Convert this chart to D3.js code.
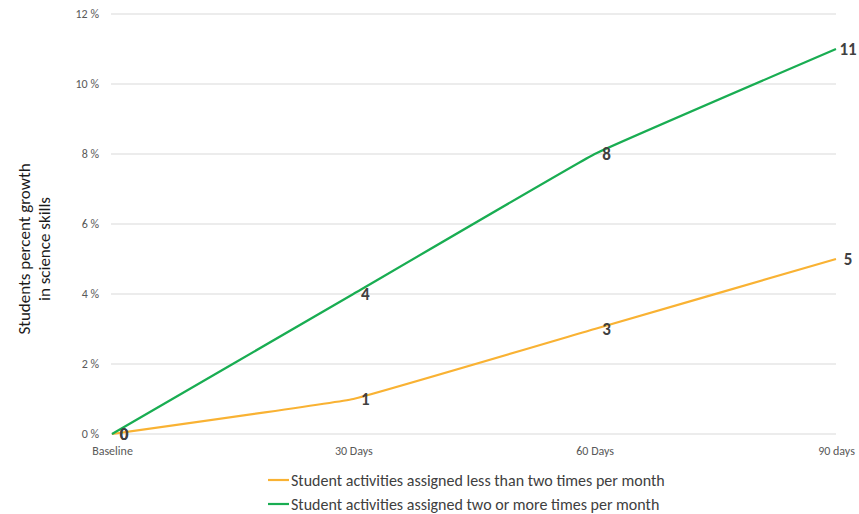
<!DOCTYPE html>
<html>
<head>
<meta charset="utf-8">
<script src="https://cdn.jsdelivr.net/npm/d3@7"></script>
<style>
  html, body { margin: 0; padding: 0; background: #fff; }
  svg { display: block; font-family: Carlito, Lato, "Open Sans", sans-serif; }
</style>
</head>
<body>
<svg id="chart" width="859" height="514"></svg>
<script>
// Time points along the x axis
const periods = ["Baseline", "30 Days", "60 Days", "90 days"];
// Growth (%) for each group of students
const lessOften = [0, 1, 3, 5];
const moreOften = [0, 4, 8, 11];
// Y axis ticks (%)
const yTicks = [0, 2, 4, 6, 8, 10, 12];

const seriesNames = [
  "Student activities assigned less than two times per month",
  "Student activities assigned two or more times per month"
];
const seriesColors = ["#F9B233", "#19AD52"];
const seriesValues = [lessOften, moreOften];

const svg = d3.select("#chart");
const plotLeft = 112, plotRight = 836, plotTop = 14, plotBottom = 434;

const x = d3.scalePoint().domain(periods).range([plotLeft, plotRight]);
const y = d3.scaleLinear().domain([0, 12]).range([plotBottom, plotTop]);

// Horizontal gridlines
svg.append("g")
  .selectAll("line")
  .data(yTicks)
  .join("line")
  .attr("x1", plotLeft - 1).attr("x2", plotRight)
  .attr("y1", d => y(d)).attr("y2", d => y(d))
  .attr("stroke", "#d9d9d9").attr("stroke-width", 1);

// Y axis labels
const yAxis = svg.append("g")
  .attr("font-size", 12)
  .attr("font-family", "Carlito, Lato, 'Open Sans', sans-serif")
  .attr("transform", `translate(${plotLeft - 13},0)`)
  .call(d3.axisLeft(y).tickValues(yTicks).tickSize(0).tickPadding(0).tickFormat(d => d + " %"));
yAxis.attr("font-size", 12).attr("font-family", "Carlito, Lato, 'Open Sans', sans-serif");
yAxis.select(".domain").remove();
yAxis.selectAll("text").attr("fill", "#595959");

// X axis labels
const xAxis = svg.append("g")
  .attr("transform", `translate(0,${plotBottom + 12})`)
  .call(d3.axisBottom(x).tickSize(0).tickPadding(0));
xAxis.attr("font-size", 12).attr("font-family", "Carlito, Lato, 'Open Sans', sans-serif");
xAxis.select(".domain").remove();
xAxis.selectAll("text").attr("fill", "#595959");

// Axis title
const title = svg.append("text")
  .attr("transform", `translate(33,249) rotate(-90)`)
  .attr("text-anchor", "middle")
  .attr("fill", "#1a1a1a").attr("font-size", 17);
title.append("tspan").attr("x", 0).attr("dy", "-0.2em").text("Students percent growth");
title.append("tspan").attr("x", 0).attr("dy", "1.2em").text("in science skills");

// Lines, lightly smoothed at the joints
const line = d3.line()
  .x((d, i) => x(periods[i]))
  .y(d => y(d))
  .curve(d3.curveCardinal.tension(0.8));

seriesValues.forEach((vals, s) => {
  svg.append("path")
    .datum(vals)
    .attr("d", line)
    .attr("fill", "none")
    .attr("stroke", seriesColors[s])
    .attr("stroke-width", 2.2)
    .attr("stroke-linejoin", "round");
});

// Value labels
seriesValues.forEach(vals => {
  svg.append("g")
    .selectAll("text")
    .data(vals)
    .join("text")
    .attr("x", (d, i) => x(periods[i]) + 12)
    .attr("y", d => y(d))
    .attr("dy", "0.35em")
    .attr("text-anchor", "middle")
    .attr("font-weight", "bold")
    .attr("font-size", 17)
    .attr("fill", "#404040")
    .text(d => d);
});

// Legend
const legend = svg.append("g");
seriesNames.forEach((name, i) => {
  const ly = 480 + i * 24;
  legend.append("line")
    .attr("x1", 268).attr("x2", 289)
    .attr("y1", ly).attr("y2", ly)
    .attr("stroke", seriesColors[i]).attr("stroke-width", 2.2);
  legend.append("text")
    .attr("x", 291).attr("y", ly)
    .attr("dy", "0.35em")
    .attr("font-size", 16)
    .attr("fill", "#404040")
    .text(name);
});
</script>
</body>
</html>
